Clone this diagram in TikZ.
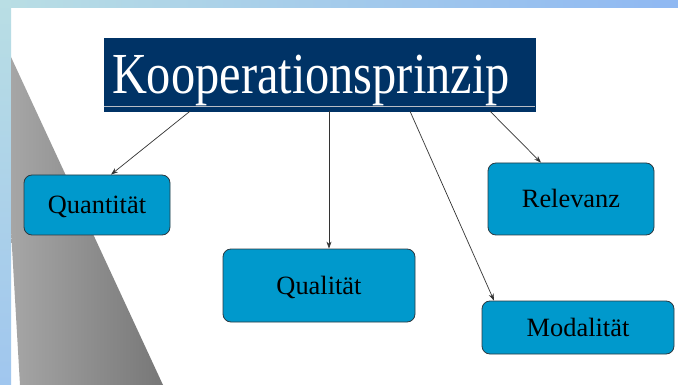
\documentclass[tikz,border=0pt]{standalone}
\usepackage{fontspec}
\setmainfont{Liberation Serif}
\usetikzlibrary{arrows.meta}

\begin{document}
\begin{tikzpicture}[x=1pt,y=-1pt,
	topic/.style={draw=boxline,fill=boxblue,line width=0.8pt,rounded corners=8pt,font=\fontsize{26.4}{30}\selectfont,text height=17.5pt,text depth=0pt},
	link/.style={->,>={Stealth[length=7pt,width=5pt]},line width=0.7pt,linecol}]
					\definecolor{bandleft}{HTML}{B9DEE4}
					\definecolor{bandright}{HTML}{8FB8F2}
					\definecolor{bandbottom}{HTML}{A0C6EE}
					\definecolor{greylight}{HTML}{A6A6A6}
					\definecolor{greydark}{HTML}{777777}
					\definecolor{navy}{HTML}{003366}
					\definecolor{titleline}{HTML}{B8BCC4}
					\definecolor{boxblue}{HTML}{0099CC}
					\definecolor{boxline}{HTML}{2B3A42}
					\definecolor{linecol}{HTML}{333333}
					\useasboundingbox (0,0) rectangle (678,385);
					\fill[white] (0,0) rectangle (678,385);
					\shade[left color=bandleft,right color=bandright] (0,0) rectangle (678,8);
					\shade[top color=bandleft,bottom color=bandbottom] (0,0) rectangle (11,385);
					\shade[left color=greylight,right color=greydark] (11,57) -- (11,230) -- (20,385) -- (163,385) -- cycle;

					\node[fill=navy,draw=navy,text=white,minimum height=73pt,text width=415pt,inner xsep=8pt,align=left,text depth=0pt] (title) at (319.5,74.5) {\scalebox{1}[1.2]{\fontsize{48.4}{50}\selectfont Kooperationsprinzip}};
					\draw[titleline,line width=0.8pt] ([yshift=5pt]title.south west) -- ([yshift=5pt]title.south east);

					\node[topic,minimum width=146pt,minimum height=60pt] (quan) at (97,205) {Quantität};
					\node[topic,minimum width=192pt,minimum height=73pt] (qual) at (319,285.5) {Qualität};
					\node[topic,minimum width=166pt,minimum height=72pt] (rele) at (571,199) {Relevanz};
					\node[topic,minimum width=192pt,minimum height=53pt] (moda) at (578,327.5) {Modalität};

					\draw[link] ([xshift=-129.5pt]title.south) -- ([xshift=14pt]quan.north);
					\draw[link] ([xshift=9.5pt]title.south) -- ([xshift=10pt]qual.north);
					\draw[link] ([xshift=90.5pt]title.south) -- ([xshift=-84pt]moda.north);
					\draw[link] ([xshift=170.5pt]title.south) -- ([xshift=-30pt]rele.north);
				\end{tikzpicture}
\end{document}
